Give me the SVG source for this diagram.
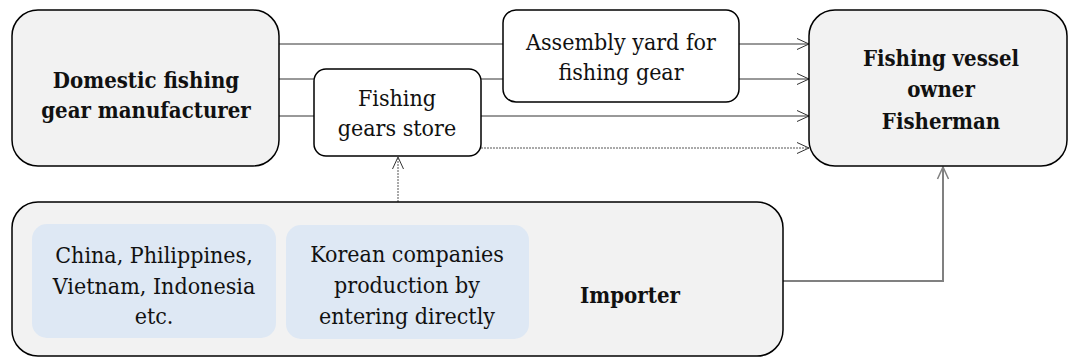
<svg xmlns="http://www.w3.org/2000/svg" width="1070" height="359" viewBox="0 0 1070 359">
<defs>
<style>
.box{fill:#f2f2f2;stroke:#000;stroke-width:1.5}
.wbox{fill:#fff;stroke:#000;stroke-width:1.5}
.inner{fill:#dee8f4;stroke:none}
.t{font-family:'DejaVu Serif','Liberation Serif',serif;font-stretch:condensed;font-size:23px;fill:#111;text-anchor:middle}
.b{font-weight:bold;font-size:22px}
.ln{fill:none;stroke:#333;stroke-width:1}
.dot{fill:none;stroke:#555;stroke-width:1;stroke-dasharray:2 1}
.gray{fill:none;stroke:#808080;stroke-width:2}
</style>
<marker id="ah" markerUnits="userSpaceOnUse" markerWidth="14" markerHeight="14" viewBox="0 0 14 14" refX="13" refY="7" orient="auto">
<path d="M1,1.5 L13,7 L1,12.5" fill="none" stroke="#333" stroke-width="1"/>
</marker>
<marker id="ahg" markerUnits="userSpaceOnUse" markerWidth="14" markerHeight="14" viewBox="0 0 14 14" refX="13" refY="7" orient="auto">
<path d="M1,1.5 L13,7 L1,12.5" fill="none" stroke="#808080" stroke-width="1.5"/>
</marker>
</defs>
<rect width="1070" height="359" fill="#fff"/>
<g id="connectors">
<line class="ln" x1="279" y1="44" x2="503" y2="44"/>
<line class="ln" x1="739" y1="44" x2="809" y2="44" marker-end="url(#ah)"/>
<line class="ln" x1="279" y1="79" x2="503" y2="79"/>
<line class="ln" x1="739" y1="79" x2="809" y2="79" marker-end="url(#ah)"/>
<line class="ln" x1="279" y1="116" x2="809" y2="116" marker-end="url(#ah)"/>
<line class="dot" x1="481" y1="148" x2="809" y2="148" marker-end="url(#ah)"/>
<line class="dot" x1="398" y1="202" x2="398" y2="157" marker-end="url(#ah)"/>
<polyline class="gray" points="783,281 943,281 943,167" marker-end="url(#ahg)"/>
</g>
<g id="domestic">
<rect class="box" x="12" y="10" width="267" height="156" rx="26"/>
<text class="t b" x="146" y="88">Domestic fishing</text>
<text class="t b" x="146" y="118">gear manufacturer</text>
</g>
<g id="store">
<rect class="wbox" x="314" y="69" width="167" height="87" rx="12"/>
<text class="t" x="397" y="106">Fishing</text>
<text class="t" x="397" y="136">gears store</text>
</g>
<g id="assembly">
<rect class="wbox" x="503" y="10" width="236" height="92" rx="13"/>
<text class="t" x="621" y="50">Assembly yard for</text>
<text class="t" x="621" y="80">fishing gear</text>
</g>
<g id="fisherman">
<rect class="box" x="809" y="10" width="258" height="156" rx="26"/>
<text class="t b" x="941" y="66">Fishing vessel</text>
<text class="t b" x="941" y="97">owner</text>
<text class="t b" x="941" y="129">Fisherman</text>
</g>
<g id="importer">
<rect class="box" x="12" y="202" width="771" height="154" rx="26"/>
<text class="t b" x="630" y="303">Importer</text>
</g>
<g id="china">
<rect class="inner" x="32" y="224" width="244" height="114" rx="15"/>
<text class="t" x="154" y="263">China, Philippines,</text>
<text class="t" x="154" y="294">Vietnam, Indonesia</text>
<text class="t" x="154" y="324">etc.</text>
</g>
<g id="korean">
<rect class="inner" x="286" y="225" width="243" height="114" rx="15"/>
<text class="t" x="407" y="262">Korean companies</text>
<text class="t" x="407" y="293">production by</text>
<text class="t" x="407" y="324">entering directly</text>
</g>
</svg>
